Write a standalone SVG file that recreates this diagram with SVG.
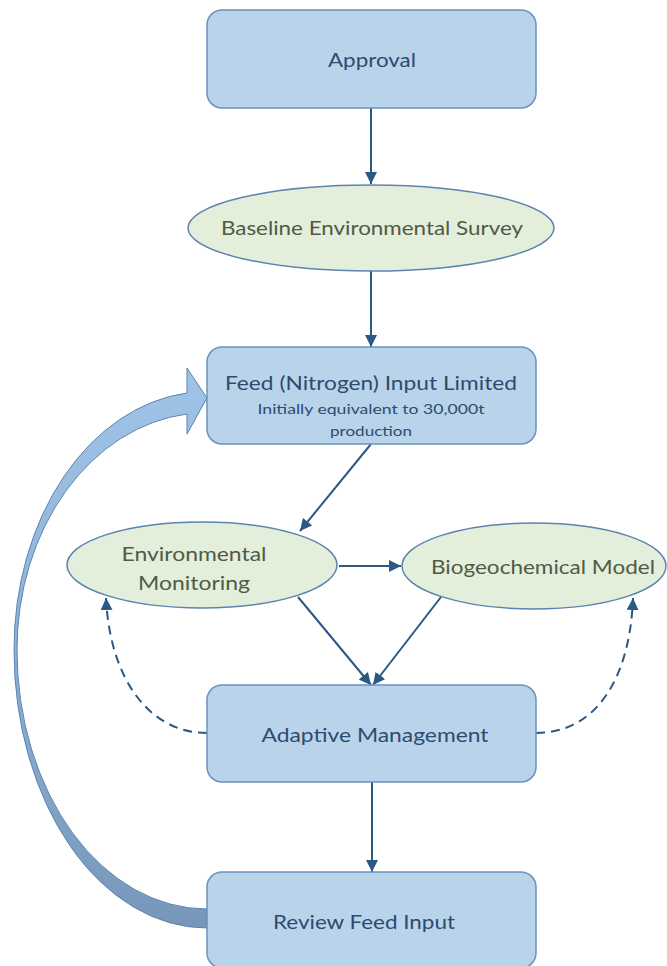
<svg xmlns="http://www.w3.org/2000/svg" width="667" height="966" viewBox="0 0 667 966">
  <defs>
    <style>
      .box { fill: #b9d3eb; stroke: #6a93bf; stroke-width: 1.5; }
      .ell { fill: #e3eedb; stroke: #5b84b1; stroke-width: 1.5; }
      .bt { font-family: Lato, "Liberation Sans", sans-serif; fill: #2d4b6e; text-anchor: middle; }
      .et { font-family: Lato, "Liberation Sans", sans-serif; fill: #4f5b46; text-anchor: middle; }
      .con { fill: none; stroke: #2c5886; stroke-width: 2; marker-end: url(#ah); }
      .dash { stroke-dasharray: 9 6; }
    </style>
    <marker id="ah" markerUnits="userSpaceOnUse" markerWidth="12" markerHeight="12" refX="12" refY="6" orient="auto">
      <path d="M0,0 L12,6 L0,12 Z" fill="#2c5886"/>
    </marker>
    <linearGradient id="bg" x1="0" y1="0" x2="0" y2="1">
      <stop offset="0" stop-color="#9fc4e7"/>
      <stop offset="0.5" stop-color="#8db2d7"/>
      <stop offset="1" stop-color="#7697b8"/>
    </linearGradient>
  </defs>

  <g id="feedback-arrow">
    <path d="M 207 928 A 193 278 0 0 1 14 650 A 193 258 0 0 1 187 393 L 187 368 L 207 398 L 187 434 L 187 414 A 190 237 0 0 0 17 650 A 190 259 0 0 0 207 909 Z" fill="url(#bg)" stroke="#5b84b1" stroke-width="1"/>
  </g>

  <g id="connectors">
    <line class="con" x1="371" y1="108" x2="371" y2="184"/>
    <line class="con" x1="371" y1="271" x2="371" y2="347"/>
    <line class="con" x1="371" y1="444" x2="300" y2="531"/>
    <line class="con" x1="339" y1="566" x2="401" y2="566"/>
    <line class="con" x1="298" y1="597" x2="371" y2="685"/>
    <line class="con" x1="441" y1="597" x2="373" y2="685"/>
    <line class="con" x1="372" y1="782" x2="372" y2="872"/>
    <path class="con dash" d="M 207 733 C 150 733 110 680 106 598"/>
    <path class="con dash" d="M 536 733 C 595 733 630 680 633 598"/>
  </g>

  <g id="approval">
    <rect class="box" x="207" y="10" width="329" height="98" rx="15"/>
    <text class="bt" x="372" y="67" font-size="20" textLength="88" lengthAdjust="spacingAndGlyphs">Approval</text>
  </g>

  <g id="baseline-survey">
    <ellipse class="ell" cx="371" cy="228" rx="183" ry="43"/>
    <text class="et" x="372" y="235" font-size="20" textLength="302" lengthAdjust="spacingAndGlyphs">Baseline Environmental Survey</text>
  </g>

  <g id="feed-input">
    <rect class="box" x="207" y="347" width="329" height="97" rx="15"/>
    <text class="bt" x="371" y="390" font-size="20" textLength="292" lengthAdjust="spacingAndGlyphs">Feed (Nitrogen) Input Limited</text>
    <text class="bt" x="371" y="414" font-size="14" textLength="227" lengthAdjust="spacingAndGlyphs">Initially equivalent to 30,000t</text>
    <text class="bt" x="371" y="436" font-size="14" textLength="82" lengthAdjust="spacingAndGlyphs">production</text>
  </g>

  <g id="env-monitoring">
    <ellipse class="ell" cx="202" cy="565" rx="135" ry="43"/>
    <text class="et" x="194" y="561" font-size="20" textLength="145" lengthAdjust="spacingAndGlyphs">Environmental</text>
    <text class="et" x="194" y="590" font-size="20" textLength="112" lengthAdjust="spacingAndGlyphs">Monitoring</text>
  </g>

  <g id="biogeochemical-model">
    <ellipse class="ell" cx="534" cy="566" rx="132" ry="43"/>
    <text class="et" x="543" y="574" font-size="20" textLength="224" lengthAdjust="spacingAndGlyphs">Biogeochemical Model</text>
  </g>

  <g id="adaptive-management">
    <rect class="box" x="207" y="685" width="329" height="97" rx="15"/>
    <text class="bt" x="375" y="742" font-size="20" textLength="227" lengthAdjust="spacingAndGlyphs">Adaptive Management</text>
  </g>

  <g id="review-feed-input">
    <rect class="box" x="207" y="872" width="329" height="96" rx="15"/>
    <text class="bt" x="364" y="929" font-size="20" textLength="182" lengthAdjust="spacingAndGlyphs">Review Feed Input</text>
  </g>
</svg>
